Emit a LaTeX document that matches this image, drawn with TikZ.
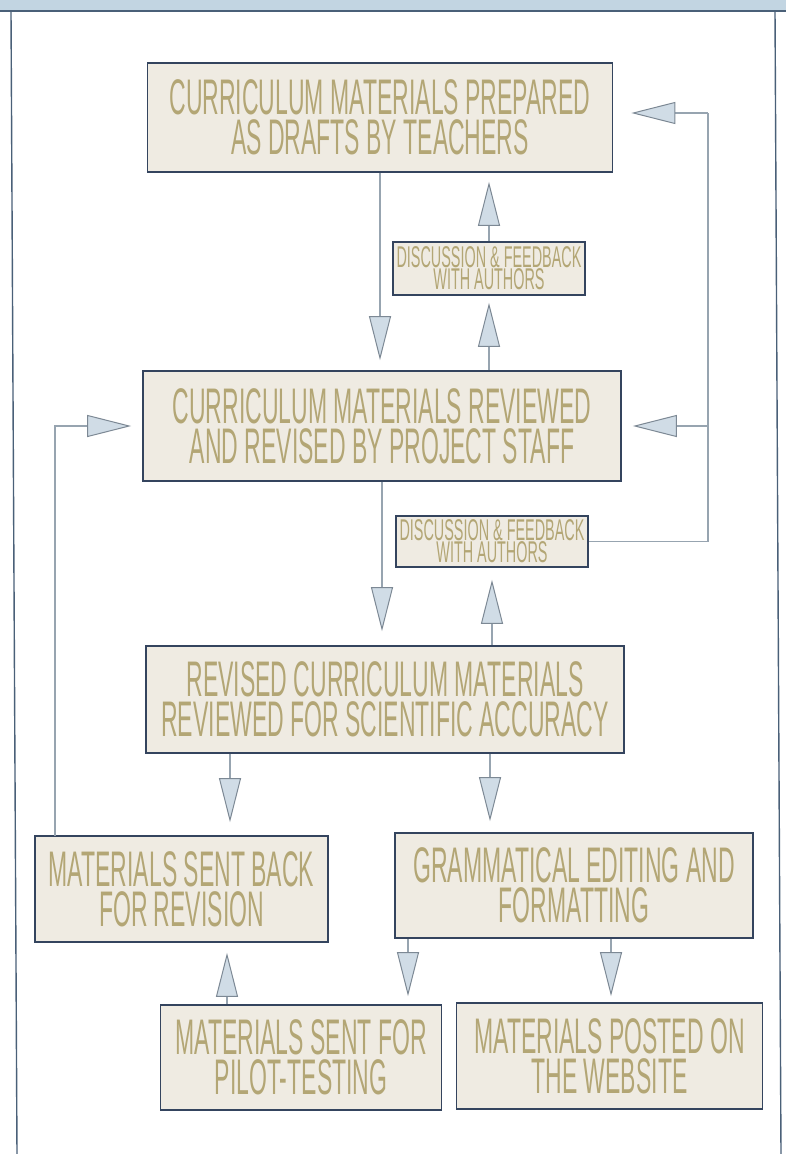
\documentclass[tikz,border=0pt]{standalone}
\usepackage{fontspec}
\newfontfamily\cond[FakeStretch=0.46]{Liberation Sans}
\newfontfamily\condsmall[FakeStretch=0.48]{Liberation Sans}
\usetikzlibrary{arrows.meta}
\definecolor{boxc}{HTML}{34445E}
\definecolor{boxf}{HTML}{EFEBE2}
\definecolor{txtc}{HTML}{B3A675}
\definecolor{linec}{HTML}{97A4B0}
\definecolor{trif}{HTML}{D0DCE6}
\definecolor{trio}{HTML}{7C8894}
\definecolor{framec}{HTML}{4A6078}
\definecolor{bandc}{HTML}{C2D5E2}
\tikzset{
  box/.style={draw=boxc, line width=1.6pt, fill=boxf, text=txtc, inner sep=0pt, align=center,
    font=\cond\fontsize{50}{40}\selectfont},
  smallbox/.style={box, font=\condsmall\fontsize{30}{22}\selectfont},
  plainline/.style={draw=linec, line width=1.1pt},
  conn/.style={plainline, -{Triangle[length=44pt,width=22pt,color=trio,fill=trif,line width=1pt]}},
}
\begin{document}
\begin{tikzpicture}[x=1pt,y=-1pt]
\useasboundingbox (0,0) rectangle (786,1154);
\fill[bandc] (0,0) rectangle (786,11);
\draw[framec, line width=2pt] (0,11) -- (786,11);
\draw[framec, line width=1.4pt] (11,11) -- (17,1154);
\draw[framec, line width=1.4pt] (775,11) -- (781,1154);

\node[box, minimum width=465pt, minimum height=109pt] (b1) at (380,117.5) {CURRICULUM MATERIALS PREPARED\\AS DRAFTS BY TEACHERS};
\node[smallbox, minimum width=192pt, minimum height=53pt] (d1) at (489,268.5) {DISCUSSION \& FEEDBACK\\WITH AUTHORS};
\node[box, minimum width=478pt, minimum height=110pt] (b2) at (382,426) {CURRICULUM MATERIALS REVIEWED\\AND REVISED BY PROJECT STAFF};
\node[smallbox, minimum width=192pt, minimum height=51pt] (d2) at (492,541.5) {DISCUSSION \& FEEDBACK\\WITH AUTHORS};
\node[box, minimum width=478pt, minimum height=107pt] (b3) at (385,699.5) {REVISED CURRICULUM MATERIALS\\REVIEWED FOR SCIENTIFIC ACCURACY};
\node[box, minimum width=293pt, minimum height=106pt] (b4) at (181.5,889) {MATERIALS SENT BACK\\FOR REVISION};
\node[box, minimum width=358pt, minimum height=105pt] (b5) at (574,885.5) {GRAMMATICAL EDITING AND\\FORMATTING};
\node[box, minimum width=281pt, minimum height=105pt] (b6) at (301,1057.5) {MATERIALS SENT FOR\\PILOT-TESTING};
\node[box, minimum width=306pt, minimum height=106pt] (b7) at (609.5,1056) {MATERIALS POSTED ON\\THE WEBSITE};

% vertical connectors
\draw[conn, shorten >=10pt] (b1.south) -- (b1.south |- b2.north);
\draw[conn, shorten >=7pt] (d1.south |- b2.north) -- (d1.south);
\draw[conn, shorten >=9pt] (d1.north) -- (d1.north |- b1.south);
\draw[conn, shorten >=14pt] (b2.south) -- (b2.south |- b3.north);
\draw[conn, shorten >=12pt] (d2.south |- b3.north) -- (d2.south);

% right feedback loop
\coordinate (rA) at (708,113);
\coordinate (rB) at (708,426);
\draw[plainline] (d2.east) -| (rA);
\draw[conn, shorten >=18pt] (rA) -- (rA -| b1.east);
\draw[conn, shorten >=11pt] (rB) -- (b2.east);

% left loop
\coordinate (lA) at (55,426);
\coordinate (lB) at (55,836);
\draw[conn, shorten >=11pt] (lB) -- (lA) -- (b2.west);

% lower connectors
\coordinate (p1) at ([xshift=-155pt]b3.south);
\coordinate (p2) at ([xshift=105pt]b3.south);
\coordinate (p3) at ([xshift=-74pt]b6.north);
\coordinate (p4) at ([xshift=-166pt]b5.south);
\coordinate (p5) at ([xshift=37pt]b5.south);
\draw[conn, shorten >=13pt] (p1) -- (p1 |- b4.north);
\draw[conn, shorten >=11pt] (p2) -- (p2 |- b5.north);
\draw[conn, shorten >=10pt] (p3) -- (p3 |- b4.south);
\draw[conn, shorten >=8pt] (p4) -- (p4 |- b6.north);
\draw[conn, shorten >=6pt] (p5) -- (p5 |- b7.north);
\end{tikzpicture}
\end{document}
